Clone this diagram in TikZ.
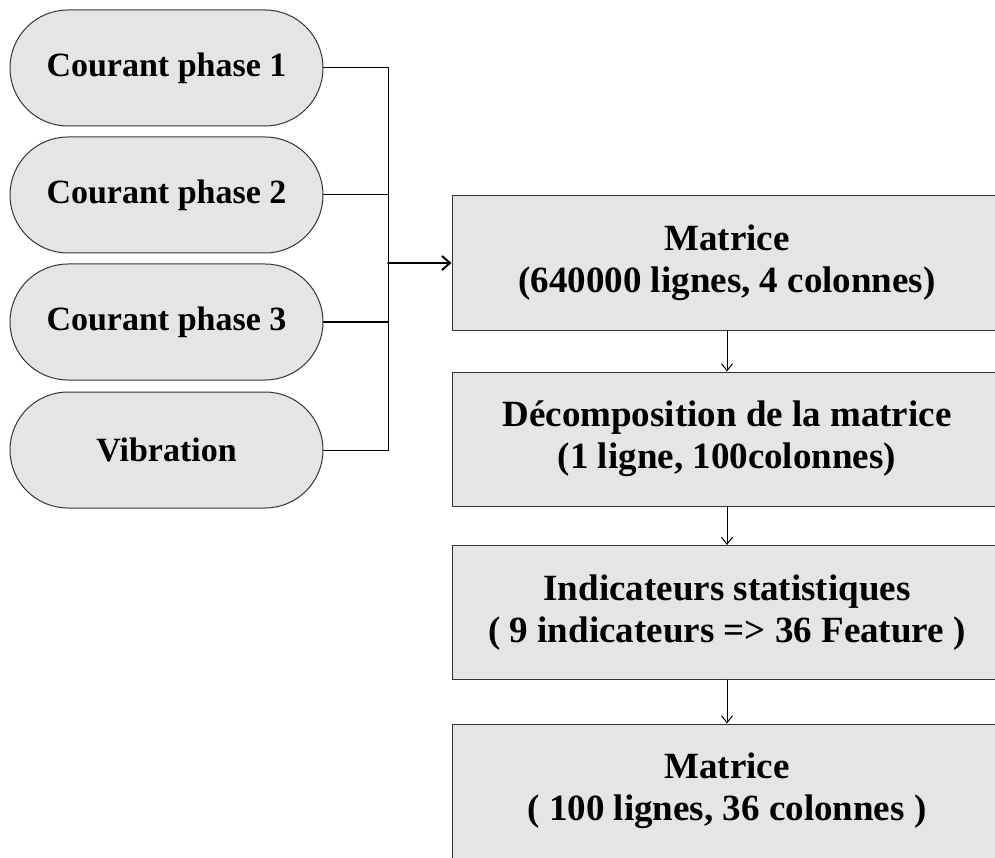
\documentclass[tikz,border=0pt]{standalone}
\usepackage{fontspec}
\setmainfont{Liberation Serif}
\usetikzlibrary{arrows.meta,shapes.misc}

\tikzset{
    entree/.style={draw=black!80,fill=black!10,line width=1pt,rounded rectangle,minimum width=313pt,minimum height=116pt,inner sep=0pt,font=\fontsize{34}{40}\selectfont\bfseries},
    etape/.style={draw=black!80,fill=black!10,line width=1pt,rectangle,minimum width=550pt,minimum height=134pt,inner sep=0pt,align=center,font=\fontsize{37}{42}\selectfont\bfseries}
}

\begin{document}
\begin{tikzpicture}[line cap=round,line join=round,x=1pt,y=-1pt]
                \useasboundingbox (0,0) rectangle (995,858);
                \clip (0,0) rectangle (995,858);
                % entrees
                \node[entree] (c1) at (166.5,68) {Courant phase 1};
                \node[entree] (c2) at (166.5,195) {Courant phase 2};
                \node[entree] (c3) at (166.5,322) {Courant phase 3};
                \node[entree] (c4) at (166.5,450) {Vibration};
                % etapes
                \node[etape] (m1) at (727,263) {Matrice\\(640000 lignes, 4 colonnes)};
                \node[etape] (m2) at (727,439) {D\'ecomposition de la matrice\\(1 ligne, 100colonnes)};
                \node[etape] (m3) at (727,612.5) {Indicateurs statistiques\\( 9 indicateurs =\textgreater{} 36 Feature )};
                \node[etape] (m4) at (727,791) {Matrice\\( 100 lignes, 36 colonnes )};
                \coordinate (bus) at (388,263);
                \draw [line width=1pt] (c1.east) -| (bus);
                \draw [line width=1pt] (c2.east) -| (bus);
                \draw [line width=1pt] (c3.east) -| (bus);
                \draw [line width=1pt] (c4.east) -| (bus);
                \draw [line width=2pt,-{Straight Barb[length=8pt,width=14pt]}] (bus) -- (m1.west);
                \draw [line width=1pt,-{Straight Barb[length=7pt,width=11pt]}] (m1) -- (m2);
                \draw [line width=1pt,-{Straight Barb[length=7pt,width=11pt]}] (m2) -- (m3);
                \draw [line width=1pt,-{Straight Barb[length=7pt,width=11pt]}] (m3) -- (m4);
\end{tikzpicture}
\end{document}
